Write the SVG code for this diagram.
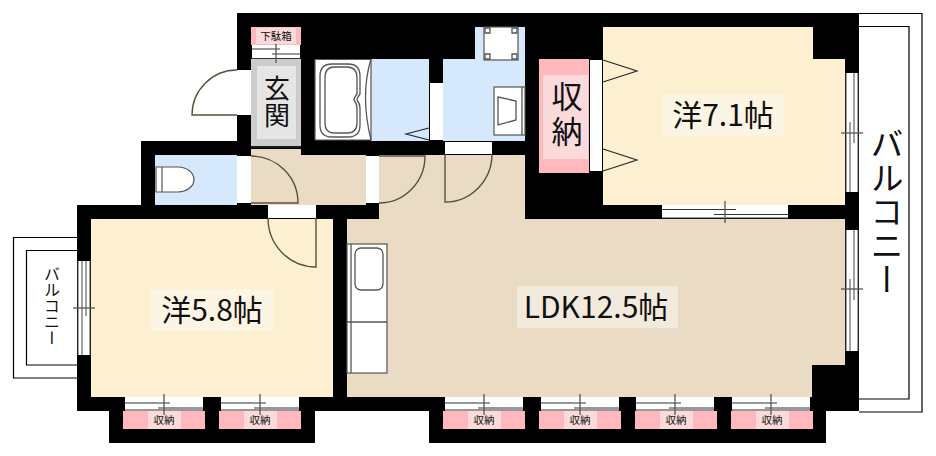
<svg xmlns="http://www.w3.org/2000/svg" width="936" height="456" viewBox="0 0 936 456">
<style>
text{font-family:"Noto Sans CJK JP","Noto Sans",sans-serif;fill:#111;text-anchor:middle}
.cream{fill:#fdf0d1}.ldk{fill:#eadcc4}.blue{fill:#d6e9fc}.pink{fill:#ffb9bc}.lp{fill:#fbdadb}.w{fill:#fff}
.bgc{fill:#fcf5e4}.bgl{fill:#f2eadc}
.bl{fill:none;stroke:#000;stroke-width:1.2}
.g{fill:none;stroke:#555;stroke-width:1.3}
.fx{fill:#fff;stroke:#555;stroke-width:1.2}
.d{fill:none;stroke:#5c4f3e;stroke-width:1.4}
.tri{fill:none;stroke:#222;stroke-width:1.1}
.sm{font-size:10.5px}
.v{writing-mode:vertical-rl}
</style>
<defs>
<g id="win"><rect x="0" y="0" width="78" height="14" fill="#fff"/><path d="M0 6H45M33 11H78" stroke="#333" stroke-width="1.1"/><path d="M0 13H78" stroke="#333" stroke-width="1"/><path d="M39 -3V18" stroke="#555" stroke-width="1.3"/></g>
<g id="store"><rect x="0" y="0" width="82" height="18" fill="#ffb9bc"/><rect x="25" y="0" width="33" height="18" fill="#fbdadb"/><text x="41" y="13" class="sm">収納</text></g>
</defs>

<g id="walls"><path d="M237 13H859V411H826V443H429V411H315V443H109V411H77V205H141V141H237Z" fill="#000"/></g>

<g id="balcony-east">
<path class="bl" d="M859 13.500H922V412H859M859 26.500H909V399H859"/>
<text class="v" x="887" y="212" font-size="33" letter-spacing="1">バルコニー</text>
</g>
<g id="balcony-west">
<path class="bl" d="M77 237.500H13.500V378H77M77 250.500H26.500V365H77"/>
<text class="v" x="52" y="306" font-size="16">バルコニー</text>
</g>

<g id="room-ldk">
<path class="ldk" d="M379 155H525V219H845V365H812V397H347V219H379Z"/>
<rect class="bgl" x="517" y="286" width="161" height="42"/>
<text x="596" y="318" font-size="30">LDK12.5帖</text>
</g>
<g id="hall"><path class="ldk" d="M251 149H301V155H366V205H251Z"/></g>

<g id="room-71">
<path class="cream" d="M603 27H813V59H845V205H603Z"/>
<rect class="bgc" x="663" y="94" width="121" height="42"/>
<text x="723" y="126" font-size="30">洋7.1帖</text>
<path class="tri" d="M603 60L637 71L603 82M603 149L637 160L603 171"/>
</g>
<g id="room-58">
<rect class="cream" x="91" y="219" width="242" height="178"/>
<rect class="bgc" x="151" y="289" width="122" height="42"/>
<text x="212" y="321" font-size="30">洋5.8帖</text>
</g>

<g id="toilet">
<rect class="blue" x="155" y="155" width="82" height="50"/>
<path class="fx" d="M156 167H178A16 12.500 0 0 1 178 192H156ZM162 167V192"/>
</g>

<g id="genkan">
<rect fill="#ccc" x="251" y="59" width="50" height="87"/>
<rect fill="#e5e5e5" x="257" y="66" width="39" height="73"/>
<path d="M251 147H301" stroke="#333" stroke-width="1.2"/>
<text class="v" x="277" y="102" font-size="26" letter-spacing="1">玄関</text>
<rect class="w" x="237" y="70" width="14" height="45"/>
<path class="d" d="M237 115H192A45 45 0 0 1 237 70"/>
</g>

<g id="shoebox">
<rect class="pink" x="251" y="27" width="50" height="18"/>
<rect class="lp" x="256" y="28" width="40" height="16"/>
<text class="sm" x="276" y="40">下駄箱</text>
<rect class="w" x="252" y="45" width="48" height="14"/>
<path d="M252 49H280M272 54H300M252 58.500H300" stroke="#333" stroke-width="1"/>
<path d="M276 44V63" stroke="#555" stroke-width="1.3"/>
</g>

<g id="bath">
<rect class="blue" x="371" y="59" width="58" height="82"/>
<path class="fx" d="M315 59.500H371V140H315Z"/>
<path class="g" d="M371 59Q360 95 371 140"/>
<path class="g" d="M332 64H348Q360 64 360 76V94Q357 98 357 100Q360 104 360 108V125Q360 137 348 137H332Q320 137 320 125V76Q320 64 332 64Z"/>
<path class="g" d="M334 67H347Q357 67 357 78V94Q354 98 354 100Q357 104 357 108V123Q357 133 347 133H334Q325 133 325 123V78Q325 67 334 67Z"/>
<path class="tri" d="M429 128L406 134L429 140"/>
<rect class="w" x="430" y="83" width="13" height="57"/>
</g>

<g id="washroom">
<path class="blue" d="M475 27H525V141H443V59H475Z"/>
<rect class="fx" x="484" y="27" width="34" height="33"/>
<path class="g" d="M485 28h5v5h-5zM512 28h5v5h-5zM485 54h5v5h-5zM512 54h5v5h-5z"/>
<rect class="fx" x="494" y="87" width="31" height="48"/>
<path class="g" d="M522 87V135M498 97L516 101V120L498 125Z"/>
</g>

<g id="closet">
<rect class="pink" x="539" y="59" width="50" height="114"/>
<rect class="lp" x="543" y="75" width="45" height="84"/>
<text class="v" x="567" y="116" font-size="31" letter-spacing="4">収納</text>
<rect class="w" x="590" y="60" width="12" height="111"/>
</g>

<g id="storage-row">
<use href="#store" x="123" y="411"/><use href="#store" x="219" y="411"/>
<use href="#store" x="443" y="411"/><use href="#store" x="539" y="411"/><use href="#store" x="635" y="411"/><use href="#store" x="731" y="411"/>
</g>

<g id="windows">
<use href="#win" x="125" y="397"/><use href="#win" x="221" y="397"/>
<use href="#win" x="445" y="397"/><use href="#win" x="541" y="397"/><use href="#win" x="636" y="397"/><use href="#win" x="732" y="397"/>
<rect class="w" x="662" y="205" width="126" height="13"/>
<path d="M662 209.500H736M714 214.500H788M662 218H788" stroke="#333" stroke-width="1"/>
<path d="M725 201V223" stroke="#555" stroke-width="1.3"/>
<rect class="w" x="846" y="73" width="12" height="119"/>
<path d="M846 73V192M858 73V192M854 73V143M850 122V192" stroke="#444" stroke-width="1"/>
<path d="M841 133H863" stroke="#555" stroke-width="1.3"/>
<rect class="w" x="846" y="230" width="12" height="121"/>
<path d="M846 230V351M858 230V351M854 230V300M850 279V351" stroke="#444" stroke-width="1"/>
<path d="M841 289H863" stroke="#555" stroke-width="1.3"/>
<rect class="w" x="78" y="261" width="12" height="94"/>
<path d="M78 261V355M90 261V355M82 261V355M86 261V316" stroke="#444" stroke-width="1"/>
<path d="M73 308H95" stroke="#555" stroke-width="1.3"/>
</g>

<g id="doors">
<rect class="w" x="237" y="156" width="14" height="47"/>
<path class="d" d="M251 156A47 47 0 0 1 298 203H251"/>
<rect class="w" x="366" y="156" width="13" height="47"/>
<path class="d" d="M379 156H425A46 47 0 0 1 379 203"/>
<rect class="w" x="445" y="142" width="47" height="12"/>
<path class="d" d="M492 154A47 48 0 0 1 445 202V154"/>
<rect class="w" x="268" y="205" width="48" height="13"/>
<path class="d" d="M268 218A48 49 0 0 0 316 267V218"/>
</g>

<g id="kitchen">
<rect class="fx" x="347" y="244" width="40" height="129"/>
<path class="g" d="M351 244V373M347 322H387"/>
<rect class="g" x="355" y="248" width="28" height="42" rx="6"/>
</g>
</svg>
